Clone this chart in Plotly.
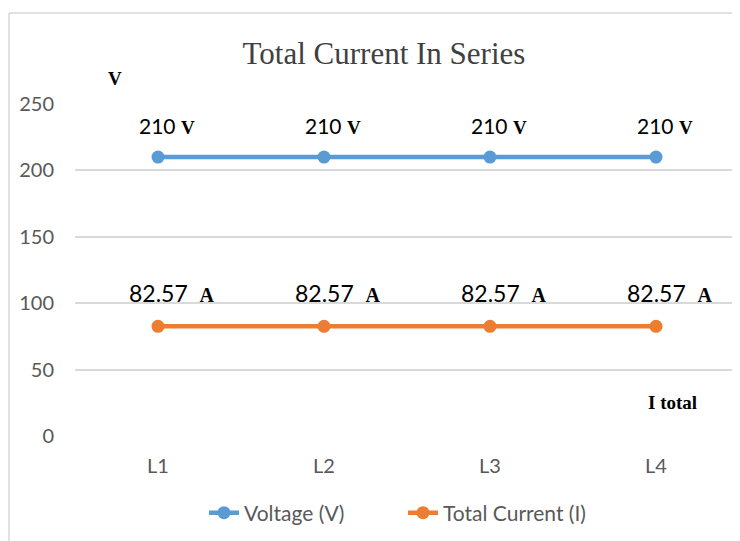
import plotly.graph_objects as go

categories = ["L1", "L2", "L3", "L4"]
voltage = [210, 210, 210, 210]
current = [82.57, 82.57, 82.57, 82.57]
y_ticks = [0, 50, 100, 150, 200, 250]

BLUE = "#5B9BD5"
ORANGE = "#ED7D31"
SANS = "Lato, Open Sans, sans-serif"
SERIF = "Liberation Serif, Times New Roman, serif"

# page body has an 8px margin: figure coordinates = window coordinates - 8
OFF = 8
L, T = 75 - OFF, 104 - OFF
PW, PH = 664, 332
W, H = 740, 541

fig = go.Figure()
fig.add_trace(go.Scatter(x=categories, y=voltage, name="Voltage (V)", mode="lines+markers",
                         line=dict(color=BLUE, width=4.5), marker=dict(size=13, color=BLUE)))
fig.add_trace(go.Scatter(x=categories, y=current, name="Total Current (I)", mode="lines+markers",
                         line=dict(color=ORANGE, width=4.5), marker=dict(size=13, color=ORANGE)))

annotations = []
for c, v in zip(categories, voltage):
    annotations.append(dict(x=c, y=v, xref="x", yref="y", yshift=32, xshift=9, showarrow=False,
                            text=f"{v:g} <b><span style='font-family:Liberation Serif;font-size:19px'>V</span></b>",
                            font=dict(family=SANS, size=21, color="#000000")))
for c, v in zip(categories, current):
    annotations.append(dict(x=c, y=v, xref="x", yref="y", yshift=33, xshift=14, showarrow=False,
                            text=f"{v:.2f}  <b><span style='font-family:Liberation Serif;font-size:20px'>A</span></b>",
                            font=dict(family=SANS, size=23, color="#000000")))

def px_x(xw):
    return (xw - OFF - L) / PW

def px_y(yw):
    return 1 + (T - (yw - OFF)) / PH

annotations.append(dict(x=px_x(106), y=px_y(66), xref="paper", yref="paper", showarrow=False,
                        text="<b>V</b>", font=dict(family=SERIF, size=19, color="#000000")))
annotations.append(dict(x=3.1, y=25, xref="x", yref="y", showarrow=False,
                        text="<b>I total</b>", font=dict(family=SERIF, size=19, color="#000000")))

fig.update_layout(
    width=W, height=H,
    margin=dict(l=L, r=W - L - PW, t=T, b=H - T - PH),
    paper_bgcolor="white", plot_bgcolor="white",
    title=dict(text="Total Current In Series", x=(384 - OFF) / W, xref="container", xanchor="center",
               y=1 - (53 - OFF) / H, yref="container", yanchor="middle",
               font=dict(family=SERIF, size=31, color="#404040")),
    xaxis=dict(range=[-0.5, 3.5], showgrid=False, zeroline=False, showline=False,
               tickfont=dict(family=SANS, size=20, color="#595959"), ticklabelstandoff=16),
    yaxis=dict(range=[0, 250], tickvals=y_ticks, showgrid=True, gridcolor="#D9D9D9", gridwidth=1.5,
               zeroline=False, showline=False,
               tickfont=dict(family=SANS, size=20, color="#595959"), ticklabelstandoff=20),
    showlegend=True,
    legend=dict(orientation="h", x=(204 - OFF) / W, xref="container", xanchor="left",
                y=1 - (513 - OFF) / H, yref="container", yanchor="middle",
                entrywidth=154, entrywidthmode="pixels",
                font=dict(family=SANS, size=21, color="#595959")),
    annotations=annotations,
    shapes=[
        dict(type="line", xref="paper", yref="paper", x0=px_x(9), x1=px_x(9),
             y0=px_y(13), y1=px_y(600), line=dict(color="#D9D9D9", width=1.5)),
        dict(type="line", xref="paper", yref="paper", x0=px_x(9), x1=px_x(800),
             y0=px_y(13), y1=px_y(13), line=dict(color="#D9D9D9", width=1.5)),
    ],
)

fig.write_html("out.html")
